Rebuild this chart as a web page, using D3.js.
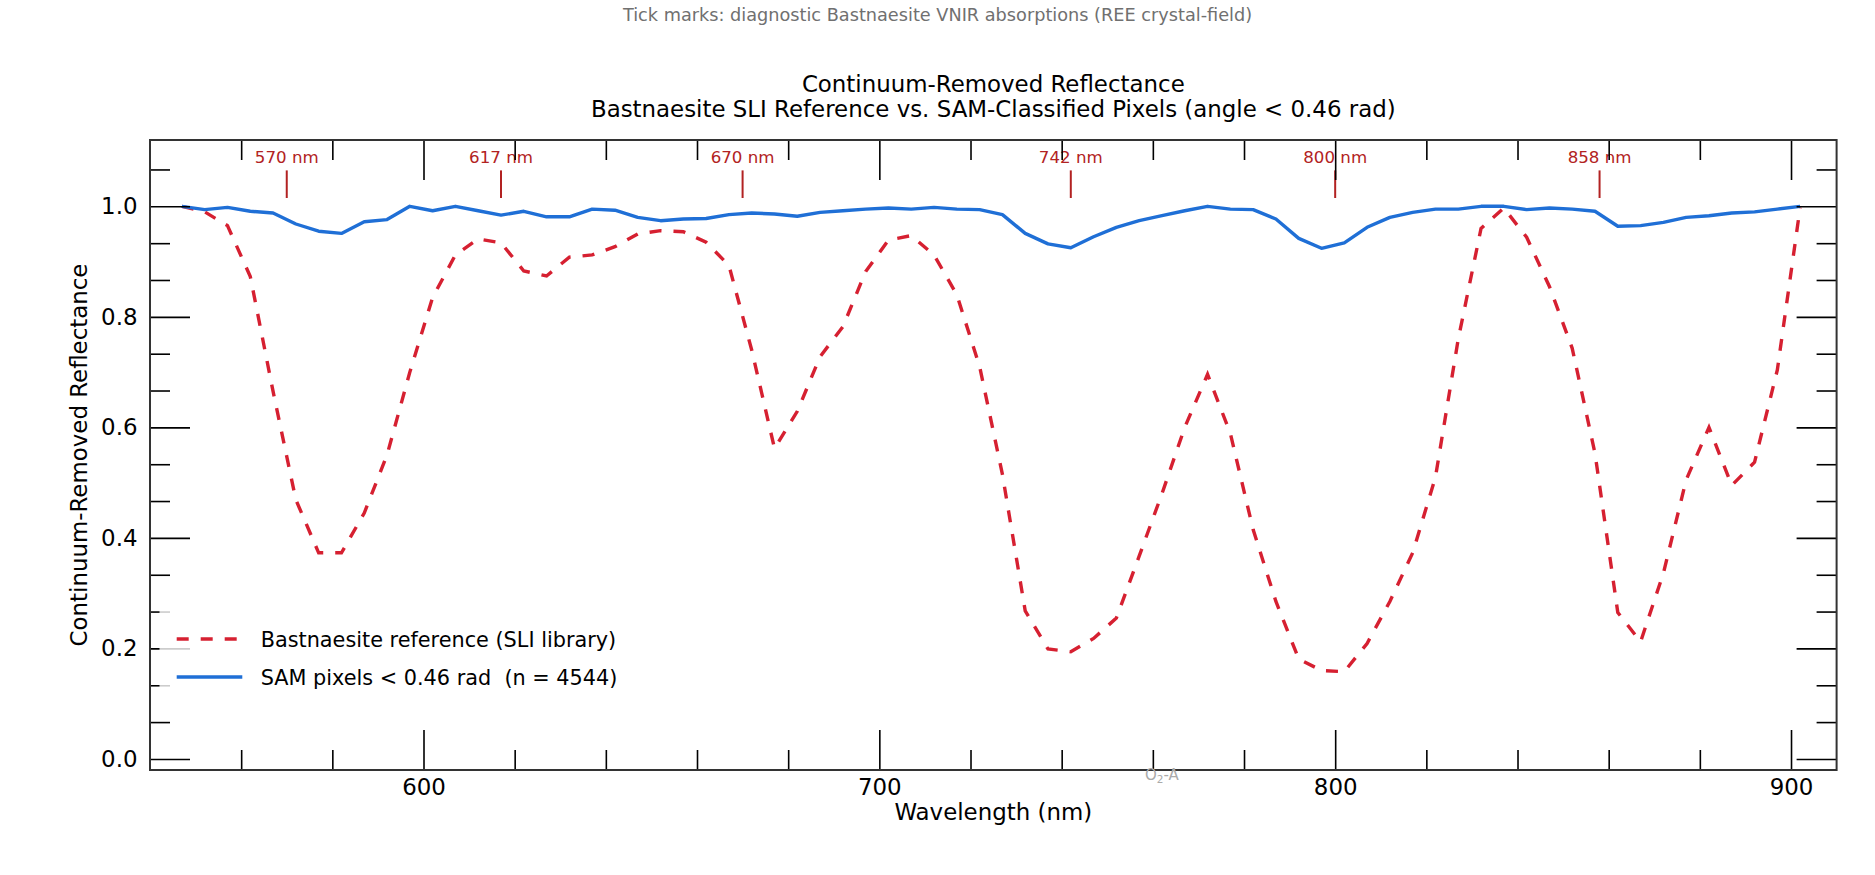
<!DOCTYPE html>
<html><head><meta charset="utf-8">
<script src="https://cdn.jsdelivr.net/npm/d3@7"></script>
<style>
body{margin:0;background:#fff}
svg{display:block}
text{font-family:"DejaVu Sans",sans-serif}
</style>
</head><body>
<svg id="chart" width="1875" height="875"></svg>
<script>
// ---------- data ----------
const wavelengths = [547,552,557,562,567,572,577,582,587,592,597,602,607,612,617,622,627,632,637,642,
  647,652,657,662,667,672,677,682,687,692,697,702,707,712,717,722,727,732,737,742,
  747,752,757,762,767,772,777,782,787,792,797,802,807,812,817,822,827,832,837,842,
  847,852,857,862,867,872,877,882,887,892,897,902];
const referenceSpectrum = [1.000,0.990,0.965,0.873,0.665,0.469,0.373,0.373,0.445,0.550,0.700,0.835,0.912,0.941,0.934,0.883,0.874,0.908,0.912,0.927,
  0.950,0.956,0.954,0.935,0.893,0.740,0.562,0.629,0.728,0.782,0.882,0.939,0.947,0.912,0.840,0.710,0.515,0.268,0.199,0.194,
  0.218,0.255,0.367,0.480,0.600,0.696,0.589,0.415,0.285,0.181,0.160,0.158,0.209,0.285,0.373,0.510,0.760,0.960,0.997,0.944,
  0.855,0.743,0.553,0.265,0.212,0.336,0.505,0.600,0.495,0.537,0.704,0.998];
const samPixelSpectrum = [1.000,0.994,0.998,0.991,0.988,0.968,0.955,0.951,0.972,0.976,1.000,0.992,1.000,0.992,0.984,0.991,0.981,0.981,0.995,0.993,
  0.980,0.974,0.977,0.978,0.985,0.988,0.986,0.982,0.989,0.992,0.995,0.997,0.995,0.998,0.995,0.994,0.985,0.951,0.932,0.925,
  0.945,0.962,0.974,0.983,0.992,1.000,0.995,0.994,0.977,0.942,0.924,0.934,0.962,0.980,0.989,0.995,0.995,1.000,1.000,0.994,
  0.997,0.995,0.991,0.964,0.965,0.971,0.980,0.983,0.988,0.990,0.995,1.000];
const seriesNames = ["Bastnaesite reference (SLI library)", "SAM pixels < 0.46 rad  (n = 4544)"];
const xMajorTicks = [600,700,800,900];
const xMinorTicks = [560,580,620,640,660,680,720,740,760,780,820,840,860,880];
const yMajorTicks = [0.0,0.2,0.4,0.6,0.8,1.0];
const yMinorTicks = [0.0667,0.1333,0.2667,0.3333,0.4667,0.5333,0.6667,0.7333,0.8667,0.9333,1.0667];
const absorptionBands = [570,617,670,742,800,858];
const absorptionLabels = ["570 nm","617 nm","670 nm","742 nm","800 nm","858 nm"];
const o2Band = 762;
const xDomain = [540,910];
const yDomain = [-0.02,1.12];

// ---------- layout ----------
const W = 1875, H = 875;
const L = 150, R = 1836.6, T = 140, B = 770;
const svg = d3.select("#chart");
svg.append("rect").attr("width",W).attr("height",H).attr("fill","#fff");

const x = d3.scaleLinear().domain(xDomain).range([L,R]);
const y = d3.scaleLinear().domain(yDomain).range([B,T]);

const RED = "#d62031", BLUE = "#1f6fd6", MARK = "#b22222";

svg.append("defs").append("clipPath").attr("id","clip")
  .append("rect").attr("x",L).attr("y",T).attr("width",R-L).attr("height",B-T);

// ---------- lines ----------
const refData = wavelengths.map((w,i)=>({w, v:referenceSpectrum[i]}));
const samData = wavelengths.map((w,i)=>({w, v:samPixelSpectrum[i]}));
const line = d3.line().x(d=>x(d.w)).y(d=>y(d.v));
const plot = svg.append("g").attr("clip-path","url(#clip)");
plot.append("path").datum(refData).attr("d",line).attr("fill","none")
  .attr("stroke",RED).attr("stroke-width",3.4).attr("stroke-dasharray","12,12");
plot.append("path").datum(samData).attr("d",line).attr("fill","none")
  .attr("stroke",BLUE).attr("stroke-width",3.4).attr("stroke-linejoin","round");

// ---------- absorption markers ----------
const mk = svg.append("g");
absorptionBands.forEach((b,i)=>{
  mk.append("line").attr("x1",x(b)).attr("x2",x(b)).attr("y1",y(1.015)).attr("y2",y(1.065))
    .attr("stroke",MARK).attr("stroke-width",2);
  mk.append("text").attr("x",x(b)).attr("y",y(1.09)+6.1).attr("text-anchor","middle")
    .attr("font-size",16.67).attr("fill",MARK).text(absorptionLabels[i]);
});

// ---------- axes ----------
function styleAxis(g){
  g.select(".domain").remove();
  g.selectAll(".tick line").attr("stroke","#000").attr("stroke-width",1.6);
  g.selectAll(".tick text").attr("font-size",22.9).attr("fill","#000").attr("font-family","DejaVu Sans");
}
svg.append("g").attr("transform",`translate(0,${B})`)
  .call(d3.axisBottom(x).tickValues(xMajorTicks).tickSizeInner(-40).tickSizeOuter(0).tickPadding(8.7).tickFormat(d3.format("d")))
  .call(styleAxis);
svg.append("g").attr("transform",`translate(0,${B})`)
  .call(d3.axisBottom(x).tickValues(xMinorTicks).tickSizeInner(-20).tickSizeOuter(0).tickFormat(""))
  .call(styleAxis);
svg.append("g").attr("transform",`translate(0,${T})`)
  .call(d3.axisTop(x).tickValues(xMajorTicks).tickSizeInner(-40).tickSizeOuter(0).tickFormat(""))
  .call(styleAxis);
svg.append("g").attr("transform",`translate(0,${T})`)
  .call(d3.axisTop(x).tickValues(xMinorTicks).tickSizeInner(-20).tickSizeOuter(0).tickFormat(""))
  .call(styleAxis);
svg.append("g").attr("transform",`translate(${L},0)`)
  .call(d3.axisLeft(y).tickValues(yMajorTicks).tickSizeInner(-40).tickSizeOuter(0).tickPadding(12.5).tickFormat(d3.format(".1f")))
  .call(styleAxis);
svg.append("g").attr("transform",`translate(${L},0)`)
  .call(d3.axisLeft(y).tickValues(yMinorTicks).tickSizeInner(-20).tickSizeOuter(0).tickFormat(""))
  .call(styleAxis);
svg.append("g").attr("transform",`translate(${R},0)`)
  .call(d3.axisRight(y).tickValues(yMajorTicks).tickSizeInner(-40).tickSizeOuter(0).tickFormat(""))
  .call(styleAxis);
svg.append("g").attr("transform",`translate(${R},0)`)
  .call(d3.axisRight(y).tickValues(yMinorTicks).tickSizeInner(-20).tickSizeOuter(0).tickFormat(""))
  .call(styleAxis);

// ---------- legend ----------
const lg = svg.append("g");
lg.append("rect").attr("x",159.5).attr("y",601).attr("width",472).attr("height",113).attr("rx",4)
  .attr("fill","#fff").attr("fill-opacity",0.8);
const legendY = [639, 677];
lg.append("line").attr("x1",176.7).attr("x2",242.3).attr("y1",legendY[0]).attr("y2",legendY[0])
  .attr("stroke",RED).attr("stroke-width",3.4).attr("stroke-dasharray","12,12");
lg.append("line").attr("x1",176.7).attr("x2",242.3).attr("y1",legendY[1]).attr("y2",legendY[1])
  .attr("stroke",BLUE).attr("stroke-width",3.4);
seriesNames.forEach((n,i)=>{
  lg.append("text").attr("x",260.7).attr("y",legendY[i]+7.6).attr("font-size",20.8).attr("fill","#000")
    .attr("xml:space","preserve").style("white-space","pre").text(n);
});

// ---------- frame ----------
svg.append("rect").attr("x",L).attr("y",T).attr("width",R-L).attr("height",B-T)
  .attr("fill","none").attr("stroke","#333").attr("stroke-width",2);

// ---------- O2-A annotation ----------
const o2 = svg.append("text").attr("x",x(o2Band)).attr("y",779.5).attr("text-anchor","middle")
  .attr("font-size",15).attr("fill","#aaaaaa");
o2.append("tspan").text("O");
o2.append("tspan").attr("font-size",10.5).attr("dy",3).text("2");
o2.append("tspan").attr("dy",-3).text("-A");

// ---------- titles ----------
const cx = (L+R)/2;
svg.append("text").attr("x",W/2).attr("y",21).attr("text-anchor","middle")
  .attr("font-size",17.7).attr("fill","#707070")
  .text("Tick marks: diagnostic Bastnaesite VNIR absorptions (REE crystal-field)");
svg.append("text").attr("x",cx).attr("y",92).attr("text-anchor","middle")
  .attr("font-size",22.9).attr("fill","#000").text("Continuum-Removed Reflectance");
svg.append("text").attr("x",cx).attr("y",117).attr("text-anchor","middle")
  .attr("font-size",22.9).attr("fill","#000")
  .text("Bastnaesite SLI Reference vs. SAM-Classified Pixels (angle < 0.46 rad)");
svg.append("text").attr("x",cx).attr("y",820).attr("text-anchor","middle")
  .attr("font-size",22.9).attr("fill","#000").text("Wavelength (nm)");
svg.append("text").attr("transform",`translate(87,${(T+B)/2}) rotate(-90)`).attr("text-anchor","middle")
  .attr("font-size",22.9).attr("fill","#000").text("Continuum-Removed Reflectance");
</script>
</body></html>
